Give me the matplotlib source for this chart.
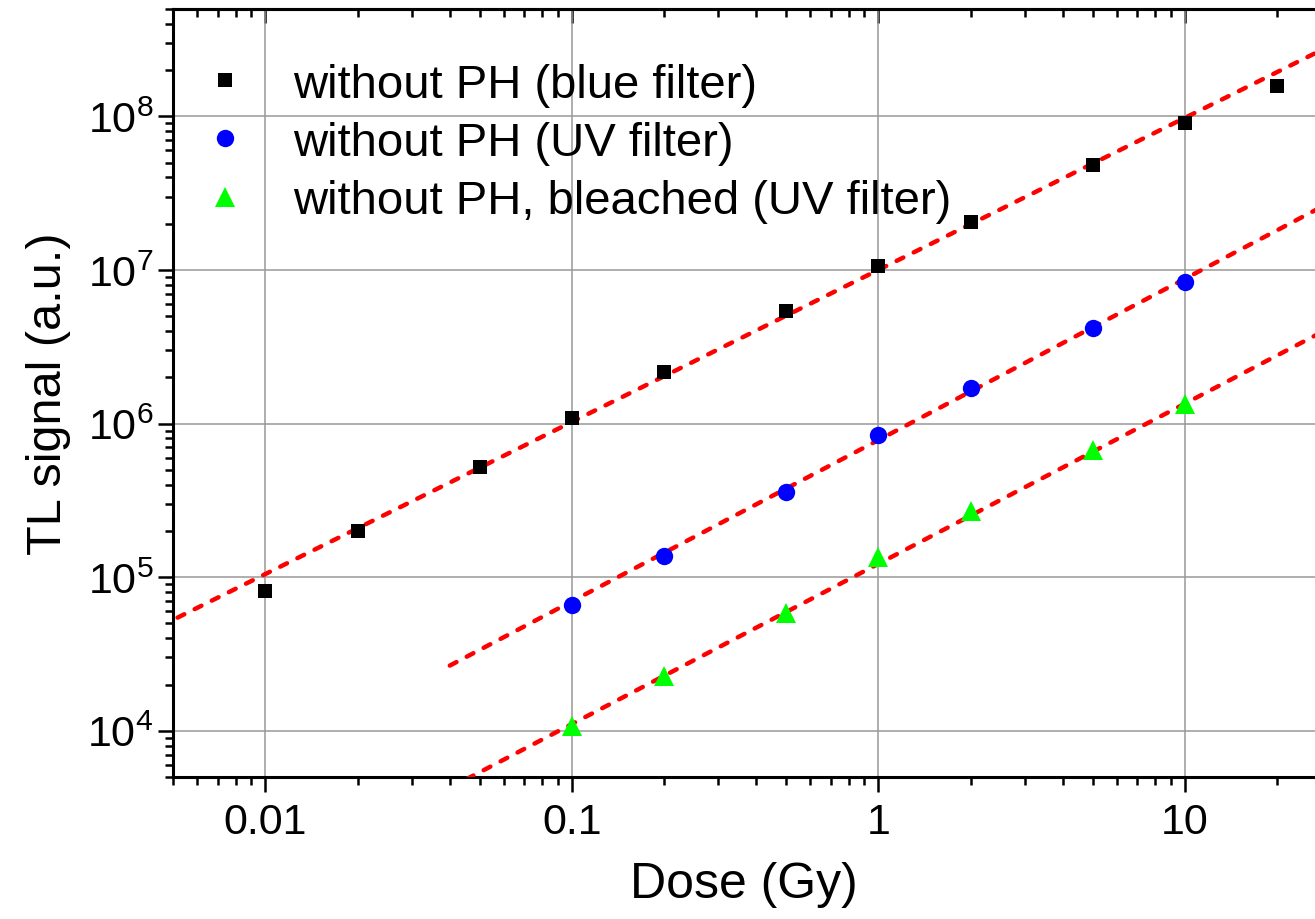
import numpy as np
import matplotlib
matplotlib.use("Agg")
import matplotlib.pyplot as plt

plt.rcParams['font.family'] = ['Liberation Sans', 'DejaVu Sans']
plt.rcParams['mathtext.fontset'] = 'custom'
plt.rcParams['mathtext.rm'] = 'Liberation Sans'
plt.rcParams['mathtext.it'] = 'Liberation Sans:italic'
plt.rcParams['mathtext.bf'] = 'Liberation Sans:bold'

# measured points
dose_blue = [0.01, 0.02, 0.05, 0.1, 0.2, 0.5, 1, 2, 5, 10, 20]
tl_blue = [8.1e4, 2.0e5, 5.2e5, 1.08e6, 2.16e6, 5.4e6, 1.06e7, 2.04e7, 4.8e7, 9.0e7, 1.57e8]

dose_uv = [0.1, 0.2, 0.5, 1, 2, 5, 10]
tl_uv = [6.6e4, 1.37e5, 3.6e5, 8.4e5, 1.7e6, 4.2e6, 8.3e6]

dose_bleached = [0.1, 0.2, 0.5, 1, 2, 5, 10]
tl_bleached = [1.07e4, 2.27e4, 5.8e4, 1.35e5, 2.7e5, 6.7e5, 1.35e6]

labels = ['without PH (blue filter)', 'without PH (UV filter)',
          'without PH, bleached (UV filter)']

# power law fits: y = A * x**b, drawn over a dose range
fit_A = [1.0e7, 7.8e5, 1.22e5]
fit_b = [0.99, 1.05, 1.043]
fit_start = [0.004, 0.04, 0.04]
fit_end = [30, 30, 30]

fig = plt.figure(figsize=(13.15, 9.2), dpi=100)
ax = fig.add_axes([173 / 1315, 1 - 778 / 920, 1 - 173 / 1315, 768 / 920])
ax.set_xscale('log')
ax.set_yscale('log')

for A, b, x0, x1 in zip(fit_A, fit_b, fit_start, fit_end):
    xs = np.array([x0, x1])
    ax.plot(xs, A * xs ** b, color='red', lw=3.2, dashes=(1.7, 2.6),
            dash_capstyle='round', zorder=3)

ax.plot(dose_blue, tl_blue, 's', color='black', ms=10.5, mew=0, label=labels[0], zorder=4)
ax.plot(dose_uv, tl_uv, 'o', color='#0000ff', ms=12.5, mew=0, label=labels[1], zorder=4)
ax.plot(dose_bleached, tl_bleached, '^', color='#00ff00', ms=15, mew=0, label=labels[2], zorder=4)

ax.set_xlim(0.005, 26.6)
ax.set_ylim(5e3, 5e8)

ax.grid(True, which='major', color='#999999', lw=1.1)
ax.set_axisbelow(True)

for side in ['left', 'bottom', 'top']:
    ax.spines[side].set_linewidth(2.2)
ax.spines['right'].set_visible(False)

ax.tick_params(which='both', direction='out', width=1.8, labelsize=31,
               top=False, right=False)
ax.tick_params(which='major', length=11)
ax.tick_params(which='minor', length=6)
ax.tick_params(axis='x', pad=7)
ax.tick_params(axis='y', pad=3)
ax.xaxis.set_major_formatter(matplotlib.ticker.FuncFormatter(lambda v, p: '%g' % v))

# top axis: ticks pointing inward, no labels
top = ax.secondary_xaxis('top')
top.tick_params(which='both', direction='in', width=1.8, labeltop=False)
top.tick_params(which='major', length=10)
top.tick_params(which='minor', length=6)
top.spines['top'].set_linewidth(2.2)

ax.set_xlabel('Dose (Gy)', fontsize=36, labelpad=14)
ax.set_ylabel('TL signal (a.u.)', fontsize=35, labelpad=12)

ax.legend(loc='upper left', bbox_to_anchor=(0.025, 0.93), frameon=False,
          fontsize=34, numpoints=1, handlelength=1.0, handletextpad=0.93,
          labelspacing=0.3, borderpad=0, borderaxespad=0)

fig.savefig('out.png', dpi=100)
